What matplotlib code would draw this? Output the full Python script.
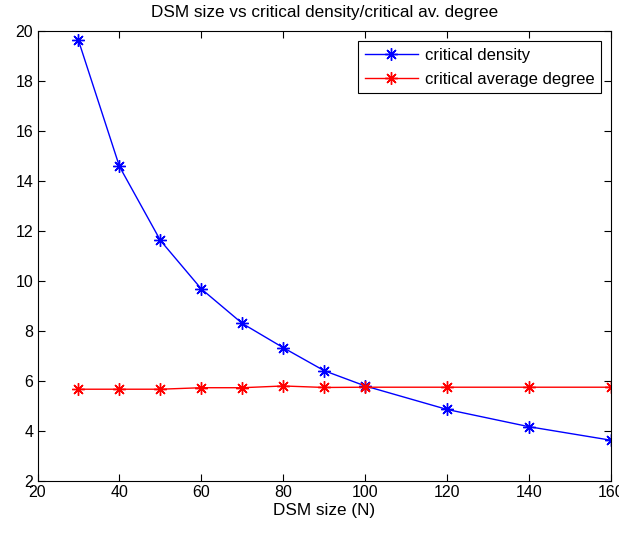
import matplotlib
matplotlib.use("Agg")
import matplotlib.pyplot as plt

plt.rcParams['font.family'] = 'Liberation Sans'
plt.rcParams['font.size'] = 12

dsm_size = [30, 40, 50, 60, 70, 80, 90, 100, 120, 140, 160]
critical_density = [19.62, 14.58, 11.62, 9.68, 8.3, 7.33, 6.41, 5.8, 4.86, 4.17, 3.63]
critical_avg_degree = [5.67, 5.67, 5.67, 5.73, 5.73, 5.8, 5.74, 5.75, 5.75, 5.75, 5.75]

asterisk = (8, 2, 0)

fig = plt.figure(figsize=(6.19, 5.33), dpi=100)
ax = fig.add_axes([0.0606, 0.0976, 0.9264, 0.8444])

ax.plot(dsm_size, critical_density, color="blue", marker=asterisk, markersize=9,
        markeredgewidth=1, linewidth=1, label="critical density")
ax.plot(dsm_size, critical_avg_degree, color="red", marker=asterisk, markersize=9,
        markeredgewidth=1, linewidth=1, label="critical average degree")

ax.set_xlim(20, 160)
ax.set_ylim(2, 20)
ax.set_xticks(range(20, 161, 20))
ax.set_yticks(range(2, 21, 2))
ax.tick_params(direction="in", top=True, right=True, length=5, labelsize=11.5, pad=3)
ax.set_xlabel("DSM size (N)", fontsize=12.3, labelpad=2)
ax.set_title("DSM size vs critical density/critical av. degree", fontsize=12.3, pad=10)

leg = ax.legend(loc="upper right", fancybox=False, shadow=False, framealpha=1,
                edgecolor="black", fontsize=12, borderaxespad=0.6,
                handlelength=3.2, handletextpad=0.4, labelspacing=0.55,
                borderpad=0.4)
leg.get_frame().set_linewidth(0.8)

fig.savefig("out.png", dpi=100)
